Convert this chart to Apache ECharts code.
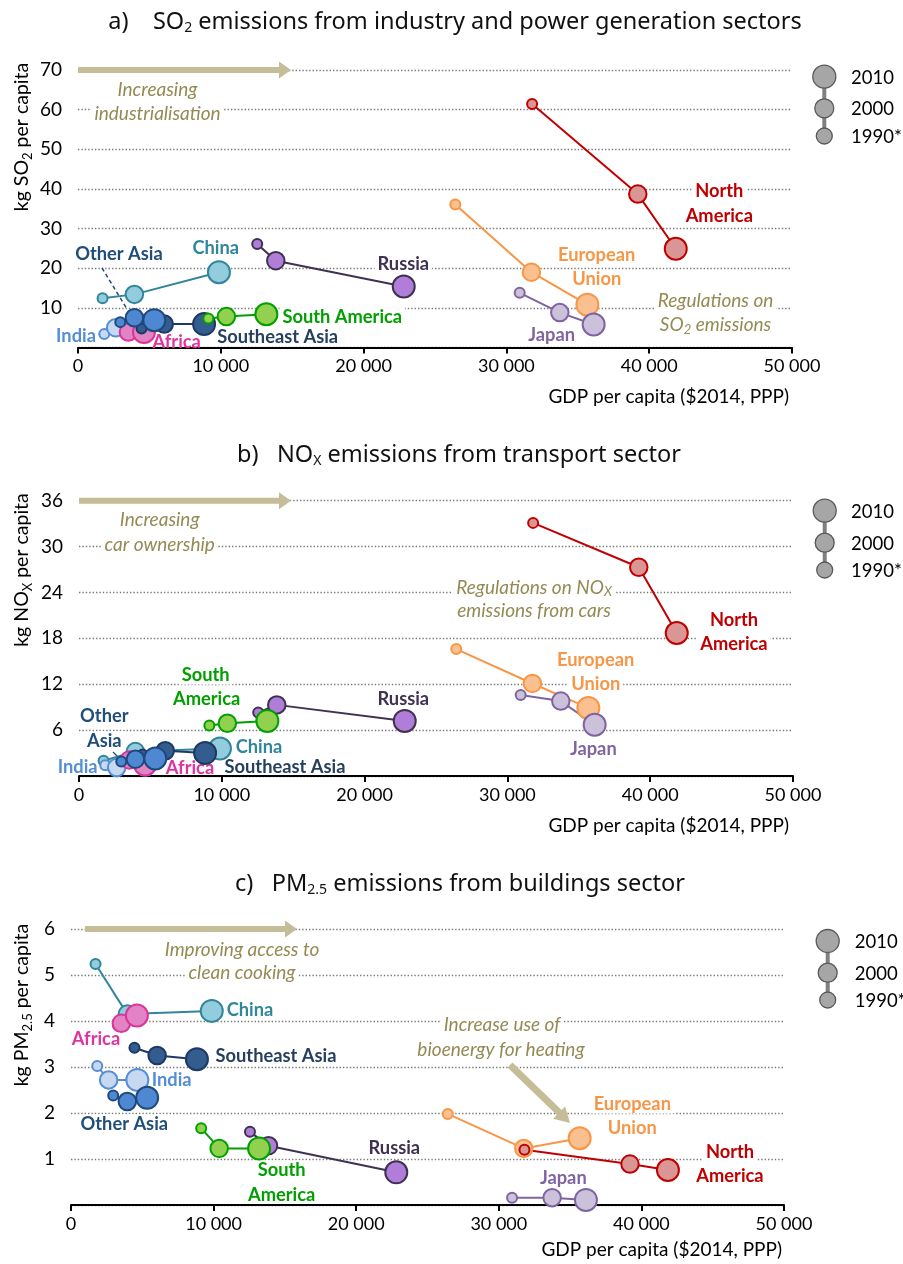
<!DOCTYPE html>
<html><head><meta charset="utf-8">
<script src="https://cdn.jsdelivr.net/npm/echarts@6/dist/echarts.min.js"></script>
<style>html,body{margin:0;padding:0;background:#fff}#c{width:903px;height:1264px}</style>
</head><body><div id="c"></div>
<script>
// ---------- DATA ----------
const years = ['1990*', '2000', '2010'];
const xTicks = [0, 10000, 20000, 30000, 40000, 50000];
const yTicksSO2 = [10, 20, 30, 40, 50, 60, 70];
const yTicksNOx = [6, 12, 18, 24, 30, 36];
const yTicksPM = [1, 2, 3, 4, 5, 6];

// GDP per capita ($2014, PPP) for 1990, 2000, 2010
const gdpNorthAmerica = [31800, 39200, 41860];
const gdpEuropeanUnion = [26420, 31750, 35670];
const gdpJapan = [30930, 33740, 36110];
const gdpRussia = [12550, 13850, 22810];
const gdpChina = [1720, 3950, 9870];
const gdpSouthAmerica = [9130, 10390, 13190];
const gdpSoutheastAsia = [4450, 6040, 8830];
const gdpOtherAsia = [2960, 3950, 5340];
const gdpIndia = [1840, 2640, 4650];
const gdpAfrica = [3300, 3530, 4620];

// a) kg SO2 per capita
const so2NorthAmerica = [61.4, 38.7, 24.9];
const so2EuropeanUnion = [36.1, 19.0, 10.8];
const so2Japan = [13.8, 8.8, 5.8];
const so2Russia = [26.1, 21.9, 15.4];
const so2China = [12.4, 13.4, 19.0];
const so2SouthAmerica = [7.3, 7.8, 8.4];
const so2SoutheastAsia = [4.8, 5.9, 5.9];
const so2OtherAsia = [6.4, 7.5, 6.9];
const so2India = [3.4, 5.0, 5.5];
const so2Africa = [3.8, 3.9, 3.9];

// b) kg NOx per capita
const noxNorthAmerica = [33.1, 27.3, 18.7];
const noxEuropeanUnion = [16.6, 12.1, 8.9];
const noxJapan = [10.6, 9.8, 6.7];
const noxRussia = [8.3, 9.3, 7.2];
const noxChina = [2.0, 3.2, 3.6];
const noxSouthAmerica = [6.6, 6.9, 7.2];
const noxSoutheastAsia = [2.8, 3.3, 3.0];
const noxOtherAsia = [1.9, 2.2, 2.3];
const noxIndia = [1.4, 1.1, 1.5];
const noxAfrica = [1.9, 2.1, 1.5];

// c) kg PM2.5 per capita
const pmNorthAmerica = [1.20, 0.89, 0.76];
const pmEuropeanUnion = [1.98, 1.23, 1.45];
const pmJapan = [0.16, 0.16, 0.11];
const pmRussia = [1.59, 1.29, 0.71];
const pmChina = [5.24, 4.15, 4.22];
const pmSouthAmerica = [1.67, 1.23, 1.23];
const pmSoutheastAsia = [3.42, 3.25, 3.17];
const pmOtherAsia = [2.38, 2.25, 2.33];
const pmIndia = [3.02, 2.72, 2.72];
const pmAfrica = [3.90, 3.95, 4.12];

// ---------- STYLES ----------
const regions = [
  {name:'China', gdp:gdpChina, v:[so2China, noxChina, pmChina], fill:'#93cddd', stroke:'#31859c'},
  {name:'India', gdp:gdpIndia, v:[so2India, noxIndia, pmIndia], fill:'#c6d9f1', stroke:'#558ed5'},
  {name:'Africa', gdp:gdpAfrica, v:[so2Africa, noxAfrica, pmAfrica], fill:'#e284c4', stroke:'#d9359b'},
  {name:'Southeast Asia', gdp:gdpSoutheastAsia, v:[so2SoutheastAsia, noxSoutheastAsia, pmSoutheastAsia], fill:'#335d8e', stroke:'#1f3864'},
  {name:'Other Asia', gdp:gdpOtherAsia, v:[so2OtherAsia, noxOtherAsia, pmOtherAsia], fill:'#4f88d2', stroke:'#1f497d'},
  {name:'Russia', gdp:gdpRussia, v:[so2Russia, noxRussia, pmRussia], fill:'#b07dd8', stroke:'#3f3151'},
  {name:'South America', gdp:gdpSouthAmerica, v:[so2SouthAmerica, noxSouthAmerica, pmSouthAmerica], fill:'#92d050', stroke:'#00a000'},
  {name:'European Union', gdp:gdpEuropeanUnion, v:[so2EuropeanUnion, noxEuropeanUnion, pmEuropeanUnion], fill:'#fac090', stroke:'#f79646'},
  {name:'Japan', gdp:gdpJapan, v:[so2Japan, noxJapan, pmJapan], fill:'#ccc1da', stroke:'#8064a2'},
  {name:'North America', gdp:gdpNorthAmerica, v:[so2NorthAmerica, noxNorthAmerica, pmNorthAmerica], fill:'#d99694', stroke:'#c00000'}
];
const symSizes = [10, 17.5, 22];
const FONT = 'Lato';
const OLIVE = '#948a54';
const TAN = '#c4bd97';

const grids = [
  {left:78, right:111, top:70, height:277.5},
  {left:79, right:110, top:500.7, height:275.3},
  {left:71, right:119, top:929, height:276}
];
const yMax = [70, 36, 6];
const yInt = [10, 6, 1];

const fmtX = v => v === 0 ? '0' : (v/1000) + ' 000';

const xAxes = grids.map((g,i) => ({
  gridIndex:i, type:'value', min:0, max:50000, interval:10000,
  axisLine:{show:true, lineStyle:{color:'#000', width:2}},
  axisTick:{show:true, length:6, lineStyle:{color:'#000', width:2}},
  axisLabel:{formatter:fmtX, color:'#000', fontFamily:FONT, fontSize:18, margin:10},
  splitLine:{show:false}
}));
const yAxes = grids.map((g,i) => ({
  gridIndex:i, type:'value', min:0, max:yMax[i], interval:yInt[i],
  axisLine:{show:false}, axisTick:{show:false},
  axisLabel:{showMinLabel:false, color:'#000', fontFamily:FONT, fontSize:19, margin:16},
  splitLine:{show:true, lineStyle:{color:'#7a7a7a', width:1.4, type:[1.4,2]}}
}));

const series = [];
[0,1,2].forEach(p => {
  regions.forEach(r => {
    series.push({
      type:'line', name:r.name, xAxisIndex:p, yAxisIndex:p,
      data: r.gdp.map((g,i) => [g, r.v[p][i]]),
      symbol:'circle', showSymbol:true, showAllSymbol:true,
      symbolSize:(val, params) => symSizes[params.dataIndex],
      itemStyle:{color:r.fill, borderColor:r.stroke, borderWidth:2, opacity:1},
      lineStyle:{color:r.stroke, width:2},
      silent:true, clip:false, animation:false,
      emphasis:{disabled:true}
    });
  });
});

// ---------- GRAPHIC (texts, arrows, legends) ----------
const G = [];
function txt(x, y, text, o) {
  o = o || {};
  const size = o.size || 17;
  G.push({type:'text', x:x, y:y, z:o.z || 1, rotation:o.rot || 0,
    style:Object.assign({text:text, fill:o.color || '#000', fontFamily:o.family || FONT,
      fontSize:size, lineHeight:Math.round(size*1.05), fontWeight:o.weight || 'normal', fontStyle:o.style || 'normal',
      align:o.align || 'center', verticalAlign:'middle',
      backgroundColor:o.bg === undefined ? '#fff' : o.bg, padding:o.pad || [0,3]}, o.extra || {})});
}
const LAB = 18.3, NOTE = 19;
function lab(x, y, text, color, noBg) { txt(x, y, text, {color:color, weight:'bold', size:LAB, bg:noBg ? 'transparent' : '#fff'}); }
function note(x, y, text) { txt(x, y, text, {color:OLIVE, style:'italic', size:NOTE}); }
function richNote(x, y, text) {
  G.push({type:'text', x:x, y:y, z:1, style:{text:text, fill:OLIVE, fontFamily:FONT, fontSize:NOTE,
    fontStyle:'italic', lineHeight:22, align:'center', verticalAlign:'middle', backgroundColor:'#fff', padding:[0,3],
    rich:{s:{fontFamily:FONT, fontStyle:'italic', fontSize:13, fill:OLIVE, verticalAlign:'bottom', lineHeight:22}}}});
}
function arrow(x1, y1, x2, y2, sw, hw, hl) {
  const dx = x2-x1, dy = y2-y1, L = Math.hypot(dx,dy), ux = dx/L, uy = dy/L, px = -uy, py = ux;
  const bx = x2 - ux*hl, by = y2 - uy*hl;
  const pts = [
    [x1+px*sw/2, y1+py*sw/2], [bx+px*sw/2, by+py*sw/2], [bx+px*hw/2, by+py*hw/2], [x2, y2],
    [bx-px*hw/2, by-py*hw/2], [bx-px*sw/2, by-py*sw/2], [x1-px*sw/2, y1-py*sw/2]
  ];
  G.push({type:'polygon', z:1, shape:{points:pts}, style:{fill:TAN}});
}
function legend(cx, ys, tx) {
  G.push({type:'line', z:1, shape:{x1:cx, y1:ys[0], x2:cx, y2:ys[2]}, style:{stroke:'#808080', lineWidth:4}});
  const rs = [11.5, 9.5, 8];
  const names = ['2010', '2000', '1990*'];
  ys.forEach((y,i) => {
    G.push({type:'circle', z:2, shape:{cx:cx, cy:y, r:rs[i]}, style:{fill:'#a6a6a6', stroke:'#595959', lineWidth:1.3}});
    txt(tx, y+1, names[i], {align:'left', size:18.5, bg:'transparent', pad:0});
  });
}
const subRich = {s:{fontFamily:'Noto Sans', fontSize:14, verticalAlign:'bottom', lineHeight:27, fill:'#111'}};
function title(x, y, text) {
  G.push({type:'text', x:x, y:y, z:1, style:{text:text, fill:'#111', fontFamily:'Noto Sans', fontSize:23.5,
    lineHeight:27, align:'center', verticalAlign:'middle', rich:subRich}});
}
const ySubRich = {s:{fontFamily:FONT, fontSize:13, verticalAlign:'bottom', lineHeight:25, fill:'#000'}};
function yname(x, y, text) {
  G.push({type:'text', x:x, y:y, z:1, rotation:Math.PI/2, style:{text:text, fill:'#000', fontFamily:FONT,
    fontSize:19.5, lineHeight:25, align:'center', verticalAlign:'middle', rich:ySubRich}});
}

// Titles
title(455, 22, 'a)    SO{s|2} emissions from industry and power generation sectors');
title(459, 455, 'b)   NO{s|X} emissions from transport sector');
title(460, 884, 'c)   PM{s|2.5} emissions from buildings sector');
// Y names
yname(22, 137, 'kg SO{s|2} per capita');
yname(22, 570, 'kg NO{s|X} per capita');
yname(22, 1005, 'kg PM{s|2.5} per capita');
// X names
txt(792, 397, 'GDP per capita ($2014, PPP)', {align:'right', size:19, bg:'transparent', pad:0});
txt(792, 826, 'GDP per capita ($2014, PPP)', {align:'right', size:19, bg:'transparent', pad:0});
txt(785, 1250, 'GDP per capita ($2014, PPP)', {align:'right', size:19, bg:'transparent', pad:0});

// Arrows
arrow(78, 70, 291, 70, 6, 17, 12);
arrow(79, 500.7, 291, 500.7, 6, 17, 12);
arrow(85, 929, 297, 929, 6, 17, 12);
arrow(510, 1065, 570, 1123, 7, 17, 15);

// Panel a annotations
note(157.5, 89.5, 'Increasing');
note(157.5, 113.5, 'industrialisation');
note(715.5, 300.5, 'Regulations on');
richNote(715.5, 325, 'SO{s|2} emissions');
lab(719.3, 190.7, 'North', '#c00000');
lab(719.3, 215.7, 'America', '#c00000');
lab(596.7, 255, 'European', '#f79646');
lab(596.7, 279.3, 'Union', '#f79646');
lab(551.7, 335, 'Japan', '#8064a2', true);
lab(403.3, 264, 'Russia', '#3f3151');
lab(215.7, 248.3, 'China', '#31859c');
lab(119, 254, 'Other Asia', '#1f4e79');
lab(342.3, 316.7, 'South America', '#00a000');
lab(277.7, 336.7, 'Southeast Asia', '#243f60', true);
lab(76, 336, 'India', '#558ed5', true);
lab(176.7, 341.7, 'Africa', '#e0339f', true);
G.push({type:'line', z:1, shape:{x1:102, y1:268, x2:127, y2:309}, style:{stroke:'#1f497d', lineWidth:1.5, lineDash:[4,3]}});
legend(824.3, [76.7, 108.3, 136], 848);

// Panel b annotations
note(159.7, 520, 'Increasing');
note(159.7, 545, 'car ownership');
richNote(534, 587.5, 'Regulations on NO{s|X}');
note(534, 611, 'emissions from cars');
lab(734, 620, 'North', '#c00000');
lab(734, 644, 'America', '#c00000');
lab(595.7, 660, 'European', '#f79646');
lab(595.7, 684, 'Union', '#f79646');
lab(593.3, 749.3, 'Japan', '#8064a2');
lab(403.3, 699, 'Russia', '#3f3151');
lab(205.7, 675, 'South', '#00a000');
lab(206.7, 699, 'America', '#00a000');
lab(104.3, 716, 'Other', '#1f4e79');
lab(104.3, 740.7, 'Asia', '#1f4e79');
lab(259, 747.3, 'China', '#31859c');
lab(77.7, 767.3, 'India', '#558ed5', true);
lab(190, 768.3, 'Africa', '#e0339f', true);
lab(285, 767.3, 'Southeast Asia', '#243f60', true);
G.push({type:'line', z:1, shape:{x1:113, y1:752, x2:118, y2:757}, style:{stroke:'#1f497d', lineWidth:1.3}});
legend(824.7, [510.7, 542.7, 570], 848);

// Panel c annotations
note(242, 950, 'Improving access to');
note(242, 973, 'clean cooking');
note(502, 1025, 'Increase use of');
note(501, 1050, 'bioenergy for heating');
lab(250, 1010, 'China', '#31859c');
lab(96, 1039.3, 'Africa', '#e0339f');
lab(276, 1056, 'Southeast Asia', '#243f60');
lab(171.7, 1080, 'India', '#558ed5');
lab(124.3, 1124, 'Other Asia', '#1f4e79');
lab(394.3, 1148.3, 'Russia', '#3f3151');
lab(281.7, 1170, 'South', '#00a000');
lab(281.7, 1195, 'America', '#00a000', true);
lab(632.3, 1104, 'European', '#f79646');
lab(632.3, 1128.3, 'Union', '#f79646');
lab(730, 1151.7, 'North', '#c00000');
lab(730, 1176, 'America', '#c00000');
lab(563.3, 1178.3, 'Japan', '#8064a2');
legend(827.7, [941, 972.7, 1000], 851.7);

const chart = echarts.init(document.getElementById('c'), null, {renderer:'canvas'});
chart.setOption({
  animation:false,
  backgroundColor:'#fff',
  grid:grids,
  xAxis:xAxes,
  yAxis:yAxes,
  series:series,
  graphic:{elements:G}
});
</script>
</body></html>
